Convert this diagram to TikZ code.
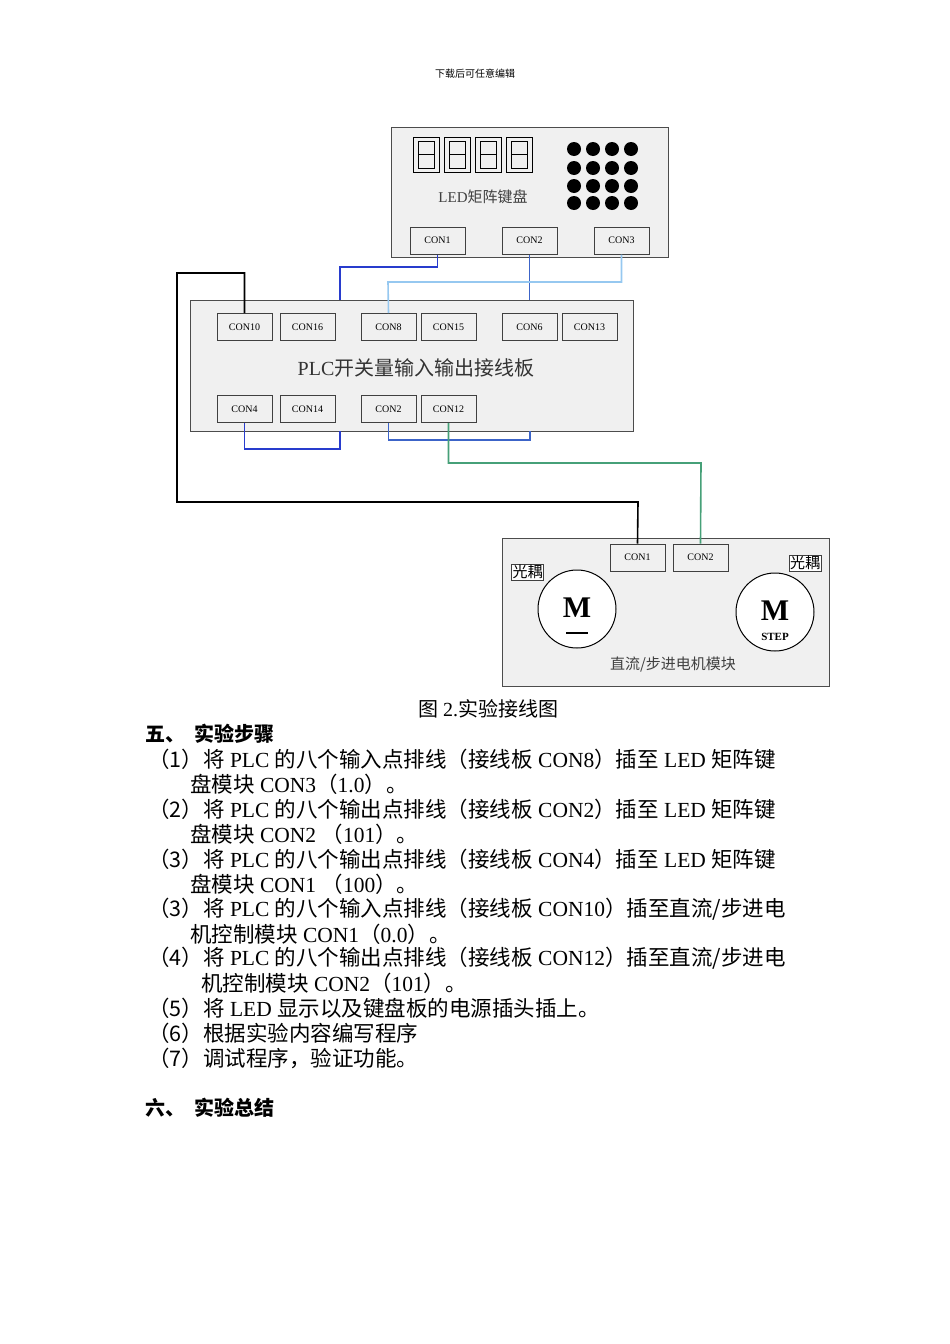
\documentclass[tikz,border=0pt]{standalone}
\usepackage{fontspec}
\setmainfont{Liberation Serif}
\newfontfamily\cj{Noto Sans CJK SC}
\definecolor{wblue}{RGB}{40,60,205}
\definecolor{wblue2}{RGB}{60,100,200}
\definecolor{wlight}{RGB}{150,200,240}
\definecolor{wgreen}{RGB}{70,160,120}
\begin{document}
\begin{tikzpicture}[x=1pt,y=-1pt,
  board/.style={draw=black!70,fill=black!6,line width=1pt},
  con/.style={draw=black!75,fill=black!6,line width=1pt,minimum width=55pt,minimum height=27pt,inner sep=0pt,font=\fontsize{10}{10}\selectfont},
  wire/.style={line width=1.6pt},
  tl/.style={anchor=west,inner sep=0pt,font=\fontsize{21.5}{21.5}\selectfont}]
\useasboundingbox (0,0) rectangle (950,1344);
\node at (475,74) {\cj\fontsize{10}{10}\selectfont 下载后可任意编辑};
% LED board
\draw[board] (391,127) rectangle (668,257);
\foreach \x in {413,444,475,506}{
  \draw[line width=1pt] (\x,137) rectangle ++(26,35);
  \draw[line width=0.8pt] (\x+5,141) rectangle ++(16,27) (\x+5,154.5)--(\x+21,154.5);}
\foreach \x in {574,593,612,631}\foreach \y in {149,168,186,203}\fill (\x,\y) circle (7);
\node[font=\fontsize{15}{15}\selectfont,text=black!75] (ledt) at (483,197) {LED{\cj 矩阵键盘}};
\node[con] (a1) at (437.5,240.5) {CON1};
\node[con] (a2) at (529.5,240.5) {CON2};
\node[con] (a3) at (621.5,240.5) {CON3};
% PLC board
\draw[board] (190,300) rectangle (633,431);
\node[font=\fontsize{20}{20}\selectfont,text=black!80] at (416,368) {PLC{\cj 开关量输入输出接线板}};
\node[con] (p10) at (244.5,327) {CON10};
\node[con] (p16) at (307.5,327) {CON16};
\node[con] (p8) at (388.5,327) {CON8};
\node[con] (p15) at (448.5,327) {CON15};
\node[con] (p6) at (529.5,327) {CON6};
\node[con] (p13) at (589.5,327) {CON13};
\node[con] (p4) at (244.5,409) {CON4};
\node[con] (p14) at (307.5,409) {CON14};
\node[con] (p2) at (388.5,409) {CON2};
\node[con] (p12) at (448.5,409) {CON12};
% motor module
\draw[board] (502,538) rectangle (829,686);
\node[con] (m1) at (637.5,557.5) {CON1};
\node[con] (m2) at (700.5,557.5) {CON2};
\draw[line width=1pt,fill=white] (577,609) circle (39);
\draw[line width=1pt,fill=white] (775,612) circle (39);
\node[draw=black!75,fill=white,inner sep=1pt,font=\cj\fontsize{15}{15}\selectfont] at (527.5,572) {光耦};
\node[draw=black!75,fill=white,inner sep=1pt,font=\cj\fontsize{15}{15}\selectfont] at (805,563) {光耦};
\node[font=\bfseries\fontsize{30}{30}\selectfont] at (577,608) {M};
\draw[line width=2pt] (566,633)--(588,633);
\node[font=\bfseries\fontsize{30}{30}\selectfont] at (775,611) {M};
\node[font=\bfseries\fontsize{11}{11}\selectfont] at (775,637) {STEP};
\node[font=\cj\fontsize{15}{15}\selectfont,text=black!75] at (673,665) {直流/步进电机模块};
% wires
\coordinate (g1) at (340,300);
\coordinate (g2) at (340,431);
\coordinate (g3) at (530,431);
\draw[wire,wblue] (a1.south) |- (340,267) -- (g1);
\draw[wire,wblue2] (a2.south) -- (p6.north |- g1);
\draw[wire,wlight] (a3.south) |- (388,282) -- (p8.north);
\draw[wire,black] (p10.north) |- (177,273) |- (638,502) -- (m1.north);
\draw[wire,wblue] (p4.south) |- (340,449) -- (g2);
\draw[wire,wblue2] (p2.south) |- (530,440) -- (g3);
\draw[wire,wgreen] (p12.south) |- (701,463) -- (m2.north);
% caption and text
\node[font=\fontsize{20}{20}\selectfont] at (488,709) {{\cj 图} 2.{\cj 实验接线图}};
\node[tl,font=\cj\bfseries\fontsize{20}{20}\selectfont] at (145,734) {五、\ \ 实验步骤};
\node[tl] at (148,759) {{\cj （1）将} PLC {\cj 的八个输入点排线（接线板} CON8{\cj ）插至} LED {\cj 矩阵键}};
\node[tl] at (190,784) {{\cj 盘模块} CON3{\cj （}1.0{\cj ）。}};
\node[tl] at (148,809) {{\cj （2）将} PLC {\cj 的八个输出点排线（接线板} CON2{\cj ）插至} LED {\cj 矩阵键}};
\node[tl] at (190,834) {{\cj 盘模块} CON2 {\cj （}101{\cj ）。}};
\node[tl] at (148,859) {{\cj （3）将} PLC {\cj 的八个输出点排线（接线板} CON4{\cj ）插至} LED {\cj 矩阵键}};
\node[tl] at (190,884) {{\cj 盘模块} CON1 {\cj （}100{\cj ）。}};
\node[tl] at (148,909) {{\cj （3）将} PLC {\cj 的八个输入点排线（接线板} CON10{\cj ）插至直流/步进电}};
\node[tl] at (190,934) {{\cj 机控制模块} CON1{\cj （}0.0{\cj ）。}};
\node[tl] at (148,958) {{\cj （4）将} PLC {\cj 的八个输出点排线（接线板} CON12{\cj ）插至直流/步进电}};
\node[tl] at (201,983) {{\cj 机控制模块} CON2{\cj （}101{\cj ）。}};
\node[tl] at (148,1008) {{\cj （5）将} LED {\cj 显示以及键盘板的电源插头插上。}};
\node[tl] at (148,1033) {{\cj （6）根据实验内容编写程序}};
\node[tl] at (148,1058) {{\cj （7）调试程序，验证功能。}};
\node[tl,font=\cj\bfseries\fontsize{20}{20}\selectfont] at (145,1108) {六、\ \ 实验总结};
\end{tikzpicture}
\end{document}
